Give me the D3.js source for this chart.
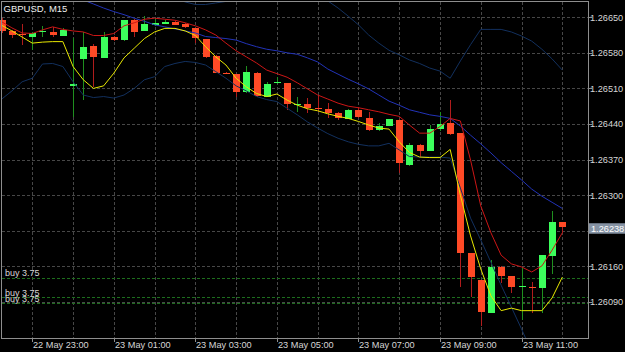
<!DOCTYPE html>
<html><head><meta charset="utf-8">
<script src="https://cdn.jsdelivr.net/npm/d3@7"></script>
<style>html,body{margin:0;padding:0;background:#000;overflow:hidden}svg{display:block}</style>
</head><body><svg id="c" width="625" height="352"></svg>
<script>
const symbol = "GBPUSD, M15";
const barStart = "2019-05-22T22:15:00Z";
const barMinutes = 15;

const open = [
1.26644,1.26623,1.26617,1.26612,1.26620,1.26621,1.26614,1.26515,1.26567,1.26593,
1.26570,1.26612,1.26605,1.26644,1.26623,1.26635,1.26637,1.26641,1.26637,1.26628,
1.26607,1.26574,1.26541,1.26538,1.26502,1.26541,1.26494,1.26520,1.26520,1.26477,
1.26479,1.26471,1.26470,1.26462,1.26450,1.26467,1.26452,1.26428,1.26437,1.26448,
1.26359,1.26399,1.26387,1.26430,1.26441,1.26422,1.26187,1.26133,1.26069,1.26159,
1.26141,1.26120,1.26119,1.26117,1.26181,1.26248];
const high = [
1.26648,1.26625,1.26637,1.26621,1.26633,1.26631,1.26629,1.26610,1.26621,1.26597,
1.26620,1.26613,1.26645,1.26646,1.26652,1.26648,1.26644,1.26642,1.26639,1.26629,
1.26608,1.26575,1.26542,1.26539,1.26554,1.26542,1.26523,1.26532,1.26521,1.26493,
1.26492,1.26498,1.26481,1.26464,1.26469,1.26473,1.26464,1.26441,1.26450,1.26449,
1.26403,1.26400,1.26438,1.26464,1.26487,1.26422,1.26187,1.26134,1.26173,1.26160,
1.26142,1.26156,1.26130,1.26183,1.26268,1.26248];
const low = [
1.26619,1.26609,1.26595,1.26586,1.26612,1.26612,1.26613,1.26454,1.26487,1.26513,
1.26569,1.26604,1.26604,1.26612,1.26623,1.26633,1.26636,1.26634,1.26629,1.26599,
1.26569,1.26540,1.26539,1.26494,1.26501,1.26494,1.26493,1.26519,1.26468,1.26464,
1.26461,1.26464,1.26452,1.26447,1.26449,1.26452,1.26427,1.26427,1.26436,1.26344,
1.26358,1.26376,1.26386,1.26426,1.26419,1.26120,1.26099,1.26043,1.26068,1.26127,
1.26108,1.26055,1.26068,1.26068,1.26146,1.26226];
const close = [
1.26623,1.26615,1.26616,1.26618,1.26623,1.26615,1.26625,1.26519,1.26591,1.26572,
1.26612,1.26605,1.26644,1.26621,1.26637,1.26638,1.26641,1.26635,1.26630,1.26610,
1.26572,1.26541,1.26540,1.26502,1.26543,1.26495,1.26518,1.26523,1.26479,1.26480,
1.26471,1.26470,1.26461,1.26452,1.26468,1.26453,1.26428,1.26436,1.26449,1.26363,
1.26399,1.26387,1.26430,1.26440,1.26420,1.26187,1.26139,1.26070,1.26159,1.26142,
1.26120,1.26121,1.26118,1.26182,1.26248,1.26238];

const fastMA = [
1.26634,1.26623,1.26611,1.26599,1.26601,1.26602,1.26602,1.26553,1.26527,1.26510,
1.26515,1.26540,1.26570,1.26589,1.26608,1.26621,1.26628,1.26628,1.26623,1.26614,
1.26592,1.26572,1.26556,1.26530,1.26513,1.26500,1.26494,1.26499,1.26487,1.26477,
1.26470,1.26466,1.26460,1.26455,1.26451,1.26445,1.26438,1.26432,1.26430,1.26405,
1.26384,1.26375,1.26374,1.26374,1.26390,1.26300,1.26220,1.26155,1.26102,1.26073,
1.26078,1.26073,1.26073,1.26073,1.26098,1.26139];
const slowMA = [
1.26641,1.26629,1.26619,1.26618,1.26625,1.26631,1.26626,1.26623,1.26621,1.26614,
1.26614,1.26618,1.26633,1.26639,1.26646,1.26648,1.26646,1.26644,1.26639,1.26633,
1.26625,1.26615,1.26599,1.26584,1.26572,1.26560,1.26546,1.26539,1.26532,1.26521,
1.26509,1.26497,1.26489,1.26481,1.26475,1.26472,1.26468,1.26464,1.26459,1.26455,
1.26438,1.26422,1.26422,1.26435,1.26451,1.26446,1.26369,1.26279,1.26226,1.26182,
1.26165,1.26159,1.26149,1.26161,1.26192,1.26226];
const bbMiddle = [
1.26715,1.26715,1.26713,1.26711,1.26707,1.26704,1.26698,1.26692,1.26684,1.26676,
1.26668,1.26661,1.26655,1.26648,1.26642,1.26635,1.26631,1.26627,1.26623,1.26619,
1.26612,1.26610,1.26608,1.26605,1.26598,1.26592,1.26587,1.26584,1.26580,1.26577,
1.26570,1.26562,1.26548,1.26538,1.26528,1.26519,1.26509,1.26497,1.26485,1.26477,
1.26468,1.26463,1.26458,1.26455,1.26451,1.26436,1.26418,1.26401,1.26383,1.26364,
1.26347,1.26330,1.26312,1.26298,1.26286,1.26274];
const bbUpper = [
1.26943,1.26920,1.26904,1.26890,1.26880,1.26871,1.26865,1.26880,1.26871,1.26861,
1.26845,1.26831,1.26814,1.26782,1.26757,1.26737,1.26704,1.26688,1.26680,1.26675,
1.26675,1.26678,1.26681,1.26688,1.26696,1.26702,1.26705,1.26707,1.26707,1.26705,
1.26700,1.26692,1.26682,1.26668,1.26652,1.26635,1.26615,1.26599,1.26585,1.26576,
1.26566,1.26559,1.26550,1.26544,1.26530,1.26564,1.26596,1.26626,1.26626,1.26626,
1.26621,1.26613,1.26603,1.26587,1.26568,1.26546];
const bbLower = [
1.26489,1.26505,1.26523,1.26530,1.26558,1.26559,1.26553,1.26523,1.26497,1.26492,
1.26494,1.26491,1.26497,1.26510,1.26527,1.26533,1.26553,1.26559,1.26563,1.26561,
1.26556,1.26543,1.26530,1.26515,1.26505,1.26494,1.26488,1.26484,1.26471,1.26458,
1.26444,1.26432,1.26421,1.26412,1.26405,1.26400,1.26397,1.26397,1.26402,1.26389,
1.26376,1.26375,1.26375,1.26375,1.26373,1.26314,1.26255,1.26212,1.26168,1.26123,
1.26080,1.26037,1.25992,1.25956,1.25927,1.25901];

const yTicks = [1.26650,1.26580,1.26510,1.26440,1.26370,1.26300,1.26230,1.26160,1.26090];
const orderPrices = [1.26138,1.26099,1.26088];
const orderLabels = ["buy 3.75","buy 3.75","buy 3.75"];
const bidPrice = 1.26238;

const times = d3.range(open.length).map(i => d3.utcMinute.offset(new Date(barStart), i * barMinutes));
const n = times.length;

const L = 2, R = 588, T = 2, B = 338;
const x = d3.scaleUtc().domain([times[0], times[n - 1]]).range([1.72, 562.3]);
const y = d3.scaleLinear().domain([1.26650, 1.26090]).range([17.2, 302]);

const svg = d3.select("#c");
svg.append("rect").attr("width", 625).attr("height", 352).attr("fill", "#000");
svg.append("defs").append("clipPath").attr("id", "clip")
  .append("rect").attr("x", 0).attr("y", T).attr("width", R).attr("height", B - T);

const font = "'Liberation Sans', Arial, sans-serif";

// grid
const hours = d3.utcHour.range(d3.utcHour.ceil(times[0]), d3.utcMinute.offset(times[n - 1], 1));
const grid = svg.append("g").attr("stroke", "#474747").attr("stroke-dasharray", "3,2")
  .attr("shape-rendering", "crispEdges");
grid.selectAll("line.v").data(hours).join("line").attr("class", "v")
  .attr("x1", d => Math.round(x(d)) + 0.5).attr("x2", d => Math.round(x(d)) + 0.5)
  .attr("y1", T).attr("y2", B);
grid.selectAll("line.h").data(yTicks).join("line").attr("class", "h")
  .attr("x1", L).attr("x2", R).attr("y1", d => Math.round(y(d)) + 0.5).attr("y2", d => Math.round(y(d)) + 0.5);

// order lines
const ord = svg.append("g");
ord.selectAll("line").data(orderPrices).join("line")
  .attr("x1", L).attr("x2", R)
  .attr("y1", d => Math.round(y(d)) + 0.5).attr("y2", d => Math.round(y(d)) + 0.5)
  .attr("stroke", "#1d6e1d").attr("stroke-dasharray", "3,2").attr("shape-rendering", "crispEdges");
ord.selectAll("text").data(orderPrices).join("text")
  .attr("x", 5).attr("y", d => y(d) - 1.5)
  .attr("fill", "#d6d6d6").attr("font-family", font).attr("font-size", "9px")
  .text((d, i) => orderLabels[i]);

// candles
const plot = svg.append("g").attr("clip-path", "url(#clip)");
const bull = "#3cff5c", bear = "#ff4a26";
const cg = plot.append("g").attr("shape-rendering", "crispEdges");
const idx = d3.range(n);
cg.selectAll("line").data(idx).join("line")
  .attr("x1", i => Math.round(x(times[i])) + 0.5).attr("x2", i => Math.round(x(times[i])) + 0.5)
  .attr("y1", i => y(high[i])).attr("y2", i => y(low[i]))
  .attr("stroke", i => close[i] >= open[i] ? "#1f8f1f" : "#b01c1c");
cg.selectAll("rect").data(idx).join("rect")
  .attr("x", i => Math.round(x(times[i])) - 3)
  .attr("width", 7)
  .attr("y", i => Math.min(y(open[i]), y(close[i])))
  .attr("height", i => Math.max(1, Math.abs(y(open[i]) - y(close[i]))))
  .attr("fill", i => close[i] >= open[i] ? bull : bear);

// indicator lines
const line = d3.line().x((d, i) => x(times[i])).y(d => y(d));
const series = [
  [bbUpper, "#12305e"], [bbLower, "#12305e"], [bbMiddle, "#2233b8"],
  [slowMA, "#cc1616"], [fastMA, "#e8e800"]
];
series.forEach(([s, c]) => {
  plot.append("path").datum(s).attr("d", line).attr("fill", "none")
    .attr("stroke", c).attr("stroke-width", 1);
});

// frame
svg.append("rect").attr("x", 1.5).attr("y", 1.5).attr("width", R - 1).attr("height", B - 1)
  .attr("fill", "none").attr("stroke", "#8e8e8e").attr("shape-rendering", "crispEdges");

// y axis
const ya = svg.append("g");
ya.selectAll("line").data(yTicks).join("line")
  .attr("x1", R).attr("x2", R + 4)
  .attr("y1", d => Math.round(y(d)) + 0.5).attr("y2", d => Math.round(y(d)) + 0.5)
  .attr("stroke", "#8e8e8e").attr("shape-rendering", "crispEdges");
ya.selectAll("text").data(yTicks.filter(d => Math.abs(y(d) - y(bidPrice)) > 8)).join("text")
  .attr("x", 590).attr("y", d => y(d) + 3.3)
  .attr("fill", "#d6d6d6").attr("font-family", font).attr("font-size", "9.2px")
  .text(d => d.toFixed(5));

// x axis
const fmt = d3.utcFormat("%d %b %H:%M");
const labeled = hours.filter((d, i) => i % 2 === 0);
const xa = svg.append("g");
xa.selectAll("line").data(labeled).join("line")
  .attr("x1", d => Math.round(x(d)) + 0.5).attr("x2", d => Math.round(x(d)) + 0.5)
  .attr("y1", B).attr("y2", B + 4)
  .attr("stroke", "#8e8e8e").attr("shape-rendering", "crispEdges");
xa.selectAll("text").data(labeled).join("text")
  .attr("x", d => Math.round(x(d)) + 1).attr("y", 347.5)
  .attr("fill", "#d6d6d6").attr("font-family", font).attr("font-size", "9.2px")
  .text(d => fmt(d));

// bid label
const by = y(bidPrice);
svg.append("rect").attr("x", 589).attr("y", by - 3.5).attr("width", 36).attr("height", 10.5)
  .attr("fill", "#8592a3");
svg.append("text").attr("x", 591).attr("y", by + 4.8)
  .attr("fill", "#ffffff").attr("font-family", font).attr("font-size", "9.2px")
  .text(bidPrice.toFixed(5));

// title
svg.append("text").attr("x", 3.5).attr("y", 12)
  .attr("fill", "#f0f0f0").attr("font-family", font).attr("font-size", "9.5px")
  .text(symbol);
</script></body></html>
